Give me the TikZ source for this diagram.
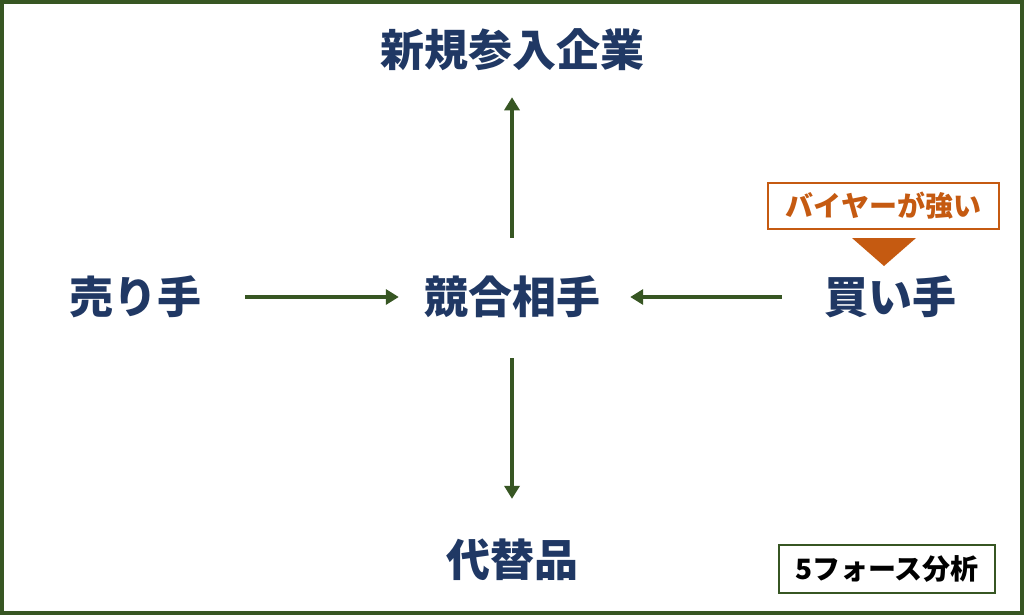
\documentclass[tikz,border=0pt]{standalone}
\usepackage{fontspec}
\setmainfont{Noto Sans CJK JP}
\usetikzlibrary{arrows.meta}
\definecolor{frameg}{HTML}{375623}
\definecolor{navy}{HTML}{203864}
\definecolor{orng}{HTML}{C55A11}
\begin{document}
\begin{tikzpicture}[x=1pt,y=-1pt,
  lbl/.style={inner sep=0pt,text=navy,font=\fontsize{44}{48}\selectfont\bfseries},
  arr/.style={draw=frameg,line width=4pt,-{Triangle[length=13pt,width=15pt]}},
  tagbox/.style={draw=orng,line width=1.2pt,fill=white,text=orng,font=\fontsize{28}{32}\selectfont\bfseries,minimum width=231pt,minimum height=46pt,inner sep=0pt},
  namebox/.style={draw=frameg,line width=1.2pt,fill=white,text=black,font=\fontsize{28}{32}\selectfont\bfseries,minimum width=216pt,minimum height=48pt,inner sep=0pt}]
\useasboundingbox (0,0) rectangle (1024,615);
\draw[frameg,line width=4pt] (2,2) rectangle (1022,613);
\node[lbl] (entr) at (512,50) {新規参入企業};
\node[lbl] (comp) at (512,297) {競合相手};
\node[lbl] (sell) at (135,297) {売り手};
\node[lbl] (buy) at (890,297) {買い手};
\node[lbl] (subs) at (512,560) {代替品};
\draw[arr,shorten <=38pt,shorten >=26pt] (comp) -- (entr);
\draw[arr,shorten <=40pt,shorten >=40pt] (comp) -- (subs);
\draw[arr,shorten <=44pt,shorten >=25pt] (sell) -- (comp);
\draw[arr,shorten <=42pt,shorten >=30pt] (buy) -- (comp);
\node[tagbox] (tag) at (883.5,206) {バイヤーが強い};
\coordinate (tl) at (852,238);
\coordinate (tr) at (916,238);
\coordinate (tb) at (884,266);
\fill[orng] (tl) -- (tr) -- (tb) -- cycle;
\node[namebox] (name) at (887,569) {5フォース分析};
\end{tikzpicture}
\end{document}
